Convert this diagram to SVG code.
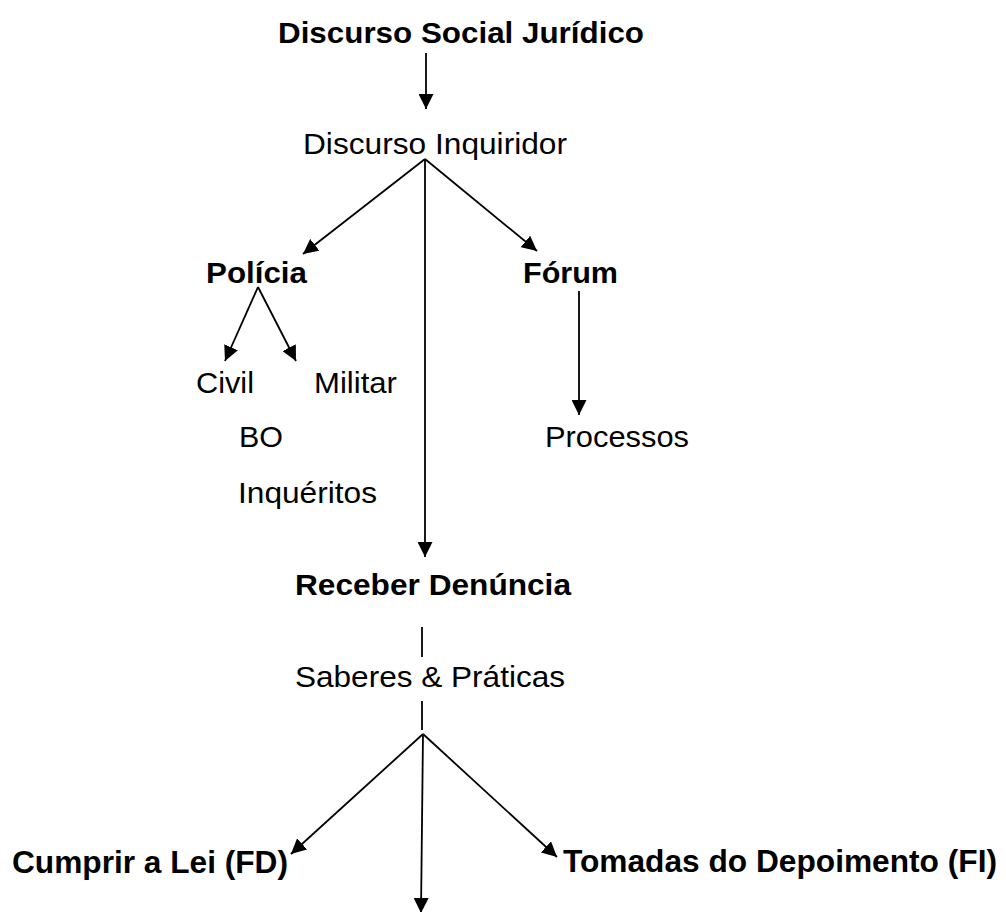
<svg xmlns="http://www.w3.org/2000/svg" width="1006" height="912" viewBox="0 0 1006 912">
<style>
text{font-family:"Liberation Sans",Arial,sans-serif;fill:#000}
.b{font-weight:bold}
.m{font-size:29px}
.l{font-size:31.5px}
.c line{stroke:#000;stroke-width:1.8;fill:none}
</style>
<defs>
<marker id="ah" viewBox="0 0 15 15" refX="15" refY="7.5" markerWidth="15" markerHeight="15" markerUnits="userSpaceOnUse" orient="auto">
<path d="M0,0 L15,7.5 L0,15 z" fill="#000"/>
</marker>
</defs>
<rect width="1006" height="912" fill="#fff"/>
<g id="n-social"><text class="b m" x="278" y="43" textLength="366" lengthAdjust="spacingAndGlyphs">Discurso Social Jurídico</text></g>
<g id="n-inquiridor"><text class="m" x="303" y="154" textLength="264" lengthAdjust="spacingAndGlyphs">Discurso Inquiridor</text></g>
<g id="n-policia"><text class="b m" x="206" y="283" textLength="101" lengthAdjust="spacingAndGlyphs">Polícia</text></g>
<g id="n-forum"><text class="b m" x="523" y="283" textLength="95" lengthAdjust="spacingAndGlyphs">Fórum</text></g>
<g id="n-civil"><text class="m" x="196" y="393" textLength="58" lengthAdjust="spacingAndGlyphs">Civil</text></g>
<g id="n-militar"><text class="m" x="314" y="393" textLength="83" lengthAdjust="spacingAndGlyphs">Militar</text></g>
<g id="n-bo"><text class="m" x="239" y="447" textLength="44" lengthAdjust="spacingAndGlyphs">BO</text></g>
<g id="n-inqueritos"><text class="m" x="238" y="503" textLength="139" lengthAdjust="spacingAndGlyphs">Inquéritos</text></g>
<g id="n-processos"><text class="m" x="545" y="447" textLength="144" lengthAdjust="spacingAndGlyphs">Processos</text></g>
<g id="n-receber"><text class="b m" x="295" y="595" textLength="276" lengthAdjust="spacingAndGlyphs">Receber Denúncia</text></g>
<g id="n-saberes"><text class="m" x="295" y="687" textLength="270" lengthAdjust="spacingAndGlyphs">Saberes &amp; Práticas</text></g>
<g id="n-cumprir"><text class="b l" x="12" y="873" textLength="276" lengthAdjust="spacingAndGlyphs">Cumprir a Lei (FD)</text></g>
<g id="n-tomadas"><text class="b l" x="563" y="872" textLength="434" lengthAdjust="spacingAndGlyphs">Tomadas do Depoimento (FI)</text></g>
<g id="connectors" class="c">
<line x1="426" y1="53" x2="426" y2="109" marker-end="url(#ah)"/>
<line x1="425" y1="159" x2="303" y2="254" marker-end="url(#ah)"/>
<line x1="425" y1="159" x2="537" y2="251" marker-end="url(#ah)"/>
<line x1="425" y1="159" x2="425" y2="557" marker-end="url(#ah)"/>
<line x1="258" y1="287" x2="225" y2="361" marker-end="url(#ah)"/>
<line x1="258" y1="287" x2="296" y2="361" marker-end="url(#ah)"/>
<line x1="579" y1="291" x2="579" y2="415" marker-end="url(#ah)"/>
<line x1="422" y1="627" x2="422" y2="657"/>
<line x1="422" y1="701" x2="422" y2="730"/>
<line x1="423" y1="734" x2="291" y2="854" marker-end="url(#ah)"/>
<line x1="423" y1="734" x2="557" y2="857" marker-end="url(#ah)"/>
<line x1="423" y1="734" x2="421" y2="913" marker-end="url(#ah)"/>
</g>
</svg>
